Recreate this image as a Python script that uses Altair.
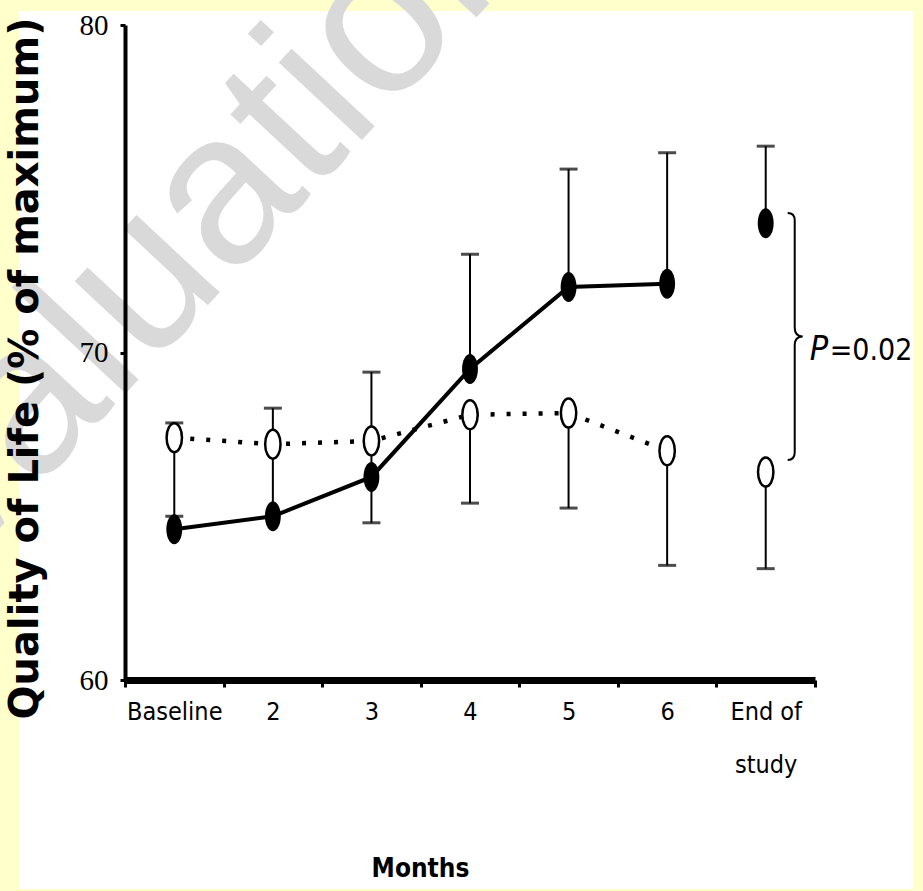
import altair as alt
import pandas as pd

# Study visits along the x axis
months = ["Baseline", "2", "3", "4", "5", "6", "End of study"]

# Treatment group: filled markers joined by a solid line
treat_mean = [64.6, 65.0, 66.2, 69.5, 72.0, 72.1, 73.95]
treat_bar_lo = [64.6, 65.0, 64.8, 69.5, 72.0, 72.1, 73.95]
treat_bar_hi = [64.6, 65.0, 66.2, 73.0, 75.6, 76.1, 76.3]
treat_caps = [None, None, 64.8, 73.0, 75.6, 76.1, 76.3]

# Control group: open markers joined by a dotted line
ctrl_mean = [67.4, 67.2, 67.3, 68.1, 68.15, 67.0, 66.35]
ctrl_bar_lo = [65.0, 65.0, 66.2, 65.4, 65.25, 63.5, 63.4]
ctrl_bar_hi = [67.85, 68.3, 69.4, 68.1, 68.15, 67.0, 66.35]
ctrl_caps = [[65.0, 67.85], [68.3], [69.4], [65.4], [65.25], [63.5], [63.4]]

# Bracket comparing the two groups at the end of the study
brace_top = 74.26
brace_bottom = 66.72
p_label_italic = "P"
p_label_rest = "=0.02"

y_ticks = [60, 70, 80]
y_domain = [60, 80]

PLOT_W, PLOT_H = 690, 655
PAD = {"left": 125, "top": 25, "right": 108, "bottom": 211}
NARROW = "Liberation Sans Narrow, DejaVu Sans Condensed, Roboto Condensed, Liberation Sans, sans-serif"

# ---- tables built from the lists above ----
means = pd.DataFrame(
    {"month": months * 2,
     "group": ["treat"] * 7 + ["ctrl"] * 7,
     "value": treat_mean + ctrl_mean,
     "lo": treat_bar_lo + ctrl_bar_lo,
     "hi": treat_bar_hi + ctrl_bar_hi,
     "order": list(range(7)) * 2}
)
caps_rows = [{"month": m, "value": v} for m, v in zip(months, treat_caps) if v is not None]
for m, vals in zip(months, ctrl_caps):
    caps_rows += [{"month": m, "value": v} for v in vals]
caps = pd.DataFrame(caps_rows)

trend = means[means["month"] != months[-1]]

x_enc = alt.X(
    "month:N",
    sort=months,
    scale=alt.Scale(domain=months, paddingInner=0, paddingOuter=0),
    axis=alt.Axis(
        title="Months", labelAngle=0, tickBand="extent", grid=False, zindex=1,
        domainColor="black", domainWidth=7, tickColor="black", tickWidth=3, tickSize=7,
        labelFont=NARROW, labelFontSize=25, labelColor="black",
        labelPadding=12, labelLineHeight=53, labelBaseline="top",
        labelExpr="datum.value == 'End of study' ? ['End of', 'study'] : datum.value",
        titleFont=NARROW, titleFontSize=26, titleFontWeight="bold",
        titleColor="black", titleX=295, titleY=188, titleBaseline="middle",
    ),
)
y_scale = alt.Scale(domain=y_domain, nice=False, zero=False)
y_enc = alt.Y(
    "value:Q",
    scale=y_scale,
    axis=alt.Axis(
        title="Quality of Life (% of maximum)", values=y_ticks, grid=False, zindex=1,
        domainColor="black", domainWidth=4, tickColor="black", tickWidth=3, tickSize=5,
        labelFont="Liberation Serif", labelFontSize=29, labelColor="black", labelPadding=12,
        titleFont="DejaVu Sans", titleFontSize=40, titleFontWeight="bold", titleColor="black",
        titleAngle=270, titleX=-100, titleY=343, titleAlign="center", titleBaseline="middle",
    ),
)

one_row = pd.DataFrame({"k": [0]})

# white panel on the yellow page
panel = alt.Chart(one_row).mark_rect(color="white").encode(
    x=alt.value(-106), x2=alt.value(788), y=alt.value(-14), y2=alt.value(864)
)

# faint diagonal stamp across the upper left
stamp = alt.Chart(one_row).mark_text(
    text="Evaluation", font="Liberation Sans", fontSize=215, color="#d9d9d9",
    angle=313, align="left", baseline="alphabetic",
).encode(x=alt.value(-262), y=alt.value(650))

bars = alt.Chart(means).mark_rule(color="black", strokeWidth=2).encode(
    x=x_enc, y=alt.Y("lo:Q", scale=y_scale), y2="hi:Q"
)
cap_ticks = alt.Chart(caps).mark_tick(color="black", size=18, thickness=3).encode(
    x=x_enc, y=alt.Y("value:Q", scale=y_scale)
)

solid = alt.Chart(trend[trend["group"] == "treat"]).mark_line(
    color="black", strokeWidth=4
).encode(x=x_enc, y=y_enc, order="order:Q")
dotted = alt.Chart(trend[trend["group"] == "ctrl"]).mark_line(
    color="black", strokeWidth=4.5, strokeDash=[4, 12], strokeCap="butt"
).encode(x=x_enc, y=alt.Y("value:Q", scale=y_scale), order="order:Q")

ellipse = "M-0.53,0 A0.53,1 0 1,1 0.53,0 A0.53,1 0 1,1 -0.53,0 Z"
filled_pts = alt.Chart(means[means["group"] == "treat"]).mark_point(
    shape=ellipse, size=900, filled=True, color="black", opacity=1
).encode(x=x_enc, y=alt.Y("value:Q", scale=y_scale))
open_pts = alt.Chart(means[means["group"] == "ctrl"]).mark_point(
    shape=ellipse, size=841, filled=True, fill="white", stroke="black",
    strokeWidth=2.5, opacity=1
).encode(x=x_enc, y=alt.Y("value:Q", scale=y_scale))

# curly bracket spanning the end-of-study values
brace_px = (brace_top - brace_bottom) / (y_domain[1] - y_domain[0]) * PLOT_H
brace_mid = (brace_top + brace_bottom) / 2
brace_df = pd.DataFrame({"month": [months[-1]], "value": [brace_mid]})
brace_path = ("M-0.057,-1 Q0,-1 0,-0.94 L0,-0.07 Q0,0 0.065,0 "
              "Q0,0 0,0.07 L0,0.94 Q0,1 -0.057,1")
brace = alt.Chart(brace_df).mark_point(
    shape=brace_path, size=brace_px ** 2, filled=False, stroke="black",
    strokeWidth=2, opacity=1, xOffset=29
).encode(x=x_enc, y=alt.Y("value:Q", scale=y_scale))
p_italic = alt.Chart(brace_df).mark_text(
    text=p_label_italic, font=NARROW, fontStyle="italic",
    fontSize=34, align="left", baseline="alphabetic", dx=44, dy=24, color="black"
).encode(x=x_enc, y=alt.Y("value:Q", scale=y_scale))
p_rest = alt.Chart(brace_df).mark_text(
    text=p_label_rest, font=NARROW,
    fontSize=30, align="left", baseline="alphabetic", dx=64, dy=24, color="black"
).encode(x=x_enc, y=alt.Y("value:Q", scale=y_scale))

chart = alt.layer(
    panel, stamp, bars, cap_ticks, dotted, solid, open_pts, filled_pts,
    brace, p_italic, p_rest
).properties(
    width=PLOT_W, height=PLOT_H, padding=PAD,
    autosize=alt.AutoSizeParams(type="none"), background="#FFFFCC",
).configure_view(strokeWidth=0)

chart.save("out.html", embed_options={"renderer": "svg", "actions": False})
